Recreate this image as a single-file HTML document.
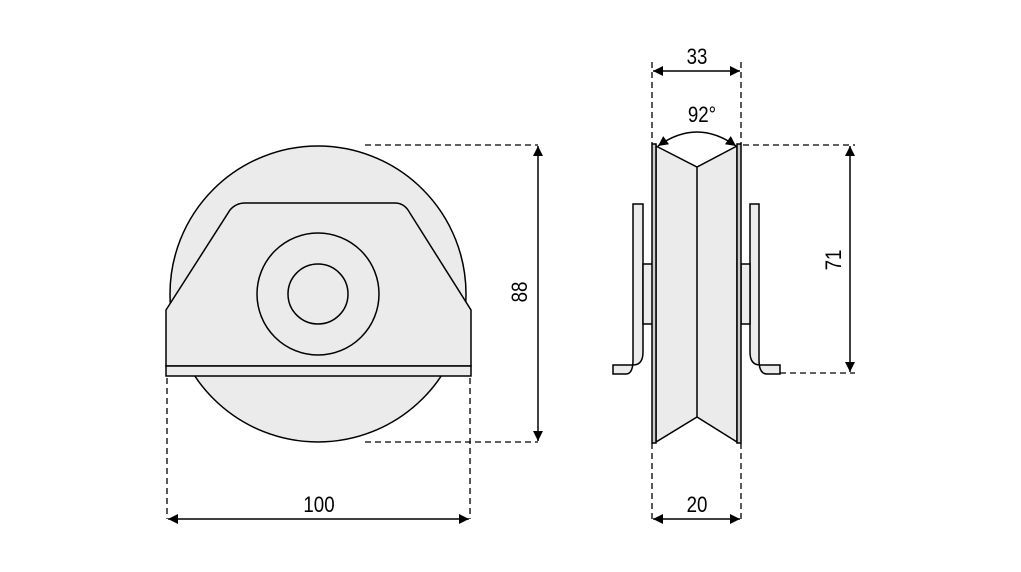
<!DOCTYPE html>
<html><head><style>html,body{margin:0;padding:0;background:#fff}</style></head><body>
<svg width="1021" height="567" viewBox="0 0 1021 567" xmlns="http://www.w3.org/2000/svg" font-family="Liberation Sans, sans-serif">
<defs><marker id="a" viewBox="0 0 10 10" refX="10" refY="5" markerWidth="11" markerHeight="10" orient="auto-start-reverse" markerUnits="userSpaceOnUse"><path d="M0,0 L10,5 L0,10 z" fill="#000"/></marker></defs>
<g stroke="#000" stroke-width="1.5" fill="#ebebeb">
<circle cx="318" cy="294" r="148"/>
<path d="M166,310 L230,210 Q236,203 245,203 L395,203 Q403,203 408,210 L471,310 L471,366 L166,366 Z"/>
<rect x="166" y="366" width="305" height="10"/>
<circle cx="318" cy="294" r="61"/>
<circle cx="318" cy="294" r="30"/>
<path d="M633,204 L643,204 L643,352 Q643,365 633,365 L613,365 L613,374 L626,374 Q633,374 633,360 Z"/>
<path d="M759,204 L750,204 L750,352 Q750,365 760,365 L780,365 L780,374 L767,374 Q759,374 759,360 Z"/>
<rect x="643" y="264" width="10" height="60"/>
<rect x="741" y="264" width="9" height="60"/>
<path d="M656,146 L697,167 L737,146 L737,442 L697,417 L656,442 Z"/>
<line x1="697" y1="167" x2="697" y2="417"/>
<rect x="652" y="144" width="4" height="299" fill="#ccc"/>
<rect x="737" y="144" width="4" height="299" fill="#ccc"/>
</g>
<g stroke="#000" stroke-width="1.3" stroke-dasharray="6,4" fill="none">
<line x1="365" y1="145" x2="538" y2="145"/>
<line x1="365" y1="442" x2="538" y2="442"/>
<line x1="167" y1="378" x2="167" y2="519"/>
<line x1="470" y1="378" x2="470" y2="519"/>
<line x1="652" y1="62" x2="652" y2="144"/>
<line x1="741" y1="62" x2="741" y2="144"/>
<line x1="652" y1="443" x2="652" y2="522"/>
<line x1="741" y1="443" x2="741" y2="522"/>
<line x1="743" y1="145" x2="855" y2="145"/>
<line x1="780" y1="373" x2="855" y2="373"/>
</g>
<g stroke="#000" stroke-width="1.5" fill="none" marker-start="url(#a)" marker-end="url(#a)">
<line x1="538" y1="146" x2="538" y2="441"/>
<line x1="168" y1="519" x2="469" y2="519"/>
<line x1="653" y1="71" x2="740" y2="71"/>
<line x1="653" y1="519" x2="740" y2="519"/>
<line x1="850" y1="146" x2="850" y2="372"/>
<path d="M658,146 Q697,118 736,146"/>
</g>
<g font-size="22" fill="#000" text-anchor="middle">
<text transform="translate(319,512) scale(0.85,1)">100</text>
<text transform="translate(697,64) scale(0.85,1)">33</text>
<text transform="translate(697,512) scale(0.85,1)">20</text>
<text transform="translate(702,122) scale(0.85,1)">92°</text>
<text transform="translate(527,292) rotate(-90) scale(0.85,1)">88</text>
<text transform="translate(841,260) rotate(-90) scale(0.85,1)">71</text>
</g>
</svg>
</body></html>
